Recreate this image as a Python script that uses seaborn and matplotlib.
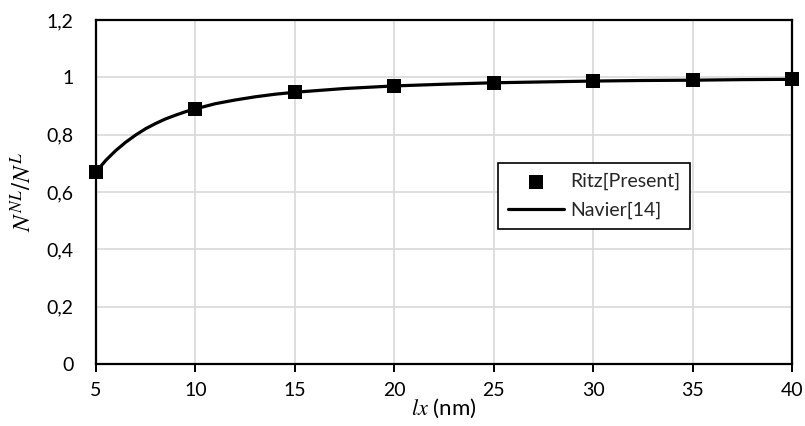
import matplotlib
matplotlib.use("Agg")
import matplotlib.pyplot as plt
import seaborn as sns
import pandas as pd

# Ritz (present) results at the computed plate lengths
ritz_lx = [5, 10, 15, 20, 25, 30, 35, 40]
ritz_ratio = [0.670, 0.890, 0.948, 0.970, 0.981, 0.987, 0.990, 0.993]

# Navier reference curve [14]
navier_lx = [5, 5.5, 6, 6.5, 7, 7.5, 8, 8.5, 9, 9.5, 10, 11, 12, 13, 14, 15,
             17.5, 20, 22.5, 25, 27.5, 30, 32.5, 35, 37.5, 40]
navier_ratio = [0.670, 0.711, 0.745, 0.774, 0.799, 0.821, 0.839, 0.855, 0.868,
                0.880, 0.890, 0.908, 0.921, 0.932, 0.941, 0.948, 0.961, 0.970,
                0.976, 0.981, 0.984, 0.987, 0.989, 0.990, 0.992, 0.993]

x_ticks = [5, 10, 15, 20, 25, 30, 35, 40]
y_ticks = [0, 0.2, 0.4, 0.6, 0.8, 1.0, 1.2]
y_tick_labels = ["0", "0,2", "0,4", "0,6", "0,8", "1", "1,2"]

sns.set_theme(style="white")
plt.rcParams["font.family"] = ["Lato", "DejaVu Sans"]
plt.rcParams["mathtext.fontset"] = "stix"

ritz = pd.DataFrame({"lx": ritz_lx, "ratio": ritz_ratio})
navier = pd.DataFrame({"lx": navier_lx, "ratio": navier_ratio})

fig = plt.figure(figsize=(8.05, 4.26), dpi=100)
ax = fig.add_axes([96 / 805, 1 - 364 / 426, 696 / 805, 344 / 426])

sns.lineplot(data=navier, x="lx", y="ratio", ax=ax, color="black",
             linewidth=2.3, label="Navier[14]", zorder=3)
sns.scatterplot(data=ritz, x="lx", y="ratio", ax=ax, color="black",
                marker="s", s=95, edgecolor="black", linewidth=0,
                label="Ritz[Present]", zorder=4, clip_on=False)

ax.set_xlim(5, 40)
ax.set_ylim(0, 1.2)
ax.set_xticks(x_ticks)
ax.set_xticklabels([str(v) for v in x_ticks])
ax.set_yticks(y_ticks)
ax.set_yticklabels(y_tick_labels)

ax.grid(True, color="#d9d9d9", linewidth=1.2)
ax.set_axisbelow(True)
for side in ["left", "right", "top", "bottom"]:
    ax.spines[side].set_visible(True)
    ax.spines[side].set_color("black")
    ax.spines[side].set_linewidth(1.6)

ax.tick_params(axis="x", direction="out", length=6, width=1.4, color="black",
               pad=7, labelsize=14, labelcolor="black", bottom=True)
ax.tick_params(axis="y", length=0, pad=16, labelsize=14, labelcolor="black")

ax.set_xlabel("$lx$ (nm)", fontsize=16, color="black", labelpad=-2)
ax.set_ylabel("$N^{NL}/N^{L}$", fontsize=18, color="black", labelpad=8)

# Legend: marker entry first, line entry second
handles, labels = ax.get_legend_handles_labels()
order = [labels.index("Ritz[Present]"), labels.index("Navier[14]")]
leg = ax.legend([handles[i] for i in order], [labels[i] for i in order],
                loc="upper left", bbox_to_anchor=(0.578, 0.584),
                borderaxespad=0, frameon=True, fancybox=False,
                fontsize=14, handlelength=2.9, handletextpad=0.3,
                borderpad=0.5, labelspacing=0.6, framealpha=1)
leg.get_frame().set_edgecolor("black")
leg.get_frame().set_linewidth(1.2)

fig.savefig("out.png", dpi=100, facecolor="white")
